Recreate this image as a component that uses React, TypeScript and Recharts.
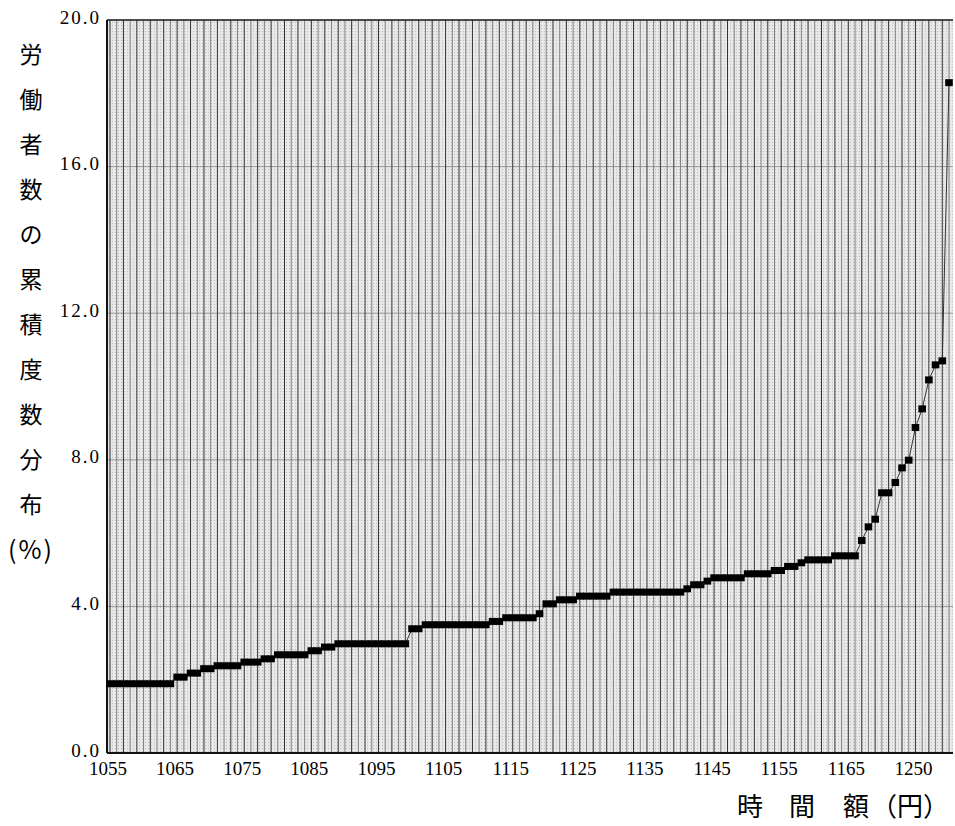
import React from "react";
import {
  LineChart,
  Line,
  XAxis,
  YAxis,
  CartesianGrid,
  ReferenceLine,
  Label,
} from "recharts";

// 時間額 (円) categories, one per plotted point
const wageLabels: number[] = [
  1055, 1056, 1057, 1058, 1059, 1060, 1061, 1062, 1063, 1064,
  1065, 1066, 1067, 1068, 1069, 1070, 1071, 1072, 1073, 1074,
  1075, 1076, 1077, 1078, 1079, 1080, 1081, 1082, 1083, 1084,
  1085, 1086, 1087, 1088, 1089, 1090, 1091, 1092, 1093, 1094,
  1095, 1096, 1097, 1098, 1099, 1100, 1101, 1102, 1103, 1104,
  1105, 1106, 1107, 1108, 1109, 1110, 1111, 1112, 1113, 1114,
  1115, 1116, 1117, 1118, 1119, 1120, 1121, 1122, 1123, 1124,
  1125, 1126, 1127, 1128, 1129, 1130, 1131, 1132, 1133, 1134,
  1135, 1136, 1137, 1138, 1139, 1140, 1141, 1142, 1143, 1144,
  1145, 1146, 1147, 1148, 1149, 1150, 1151, 1152, 1153, 1154,
  1155, 1156, 1157, 1158, 1159, 1160, 1161, 1162, 1163, 1164,
  1165, 1166, 1167, 1168, 1169, 1170, 1175, 1180, 1200, 1220,
  1250, 1260, 1280, 1300, 1350, 1400,
];

// 労働者数の累積度数分布 (%)
const cumulativePct: number[] = [
  1.89, 1.89, 1.89, 1.89, 1.89, 1.89, 1.89, 1.89, 1.89, 1.89,
  2.07, 2.07, 2.18, 2.18, 2.30, 2.30, 2.38, 2.38, 2.38, 2.38,
  2.48, 2.48, 2.48, 2.57, 2.57, 2.68, 2.68, 2.68, 2.68, 2.68,
  2.79, 2.79, 2.89, 2.89, 2.98, 2.98, 2.98, 2.98, 2.98, 2.98,
  2.98, 2.98, 2.98, 2.98, 2.98, 3.39, 3.39, 3.50, 3.50, 3.50,
  3.50, 3.50, 3.50, 3.50, 3.50, 3.50, 3.50, 3.59, 3.59, 3.69,
  3.69, 3.69, 3.69, 3.69, 3.80, 4.07, 4.07, 4.18, 4.18, 4.18,
  4.28, 4.28, 4.28, 4.28, 4.28, 4.39, 4.39, 4.39, 4.39, 4.39,
  4.39, 4.39, 4.39, 4.39, 4.39, 4.39, 4.48, 4.59, 4.59, 4.69,
  4.78, 4.78, 4.78, 4.78, 4.78, 4.89, 4.89, 4.89, 4.89, 4.98,
  4.98, 5.09, 5.09, 5.19, 5.27, 5.27, 5.27, 5.27, 5.38, 5.38,
  5.38, 5.38, 5.80, 6.17, 6.38, 7.10, 7.10, 7.38, 7.78, 7.99,
  8.88, 9.39, 10.18, 10.59, 10.70, 18.29,
];

const yTicks: number[] = [0, 4, 8, 12, 16, 20];

const yTitleChars: string[] = ["労", "働", "者", "数", "の", "累", "積", "度", "数", "分", "布", "(%)"];
const xTitleParts: string[] = ["時", "間", "額", "（円）"];

const data = wageLabels.map((w, i) => ({ wage: String(w), pct: cumulativePct[i] }));

const SERIF = "'Liberation Serif', 'DejaVu Serif', serif";
const CJK = "'Noto Sans CJK JP', sans-serif";

const SquareDot = (props: any) => {
  const { cx, cy, index } = props;
  if (cx == null || cy == null) return null;
  return <rect key={`d${index}`} x={cx - 3.8} y={cy - 3.5} width={7.6} height={7} fill="#000" />;
};

const YTick = (props: any) => {
  const { y, payload } = props;
  return (
    <text x={101} y={y - 3} dominantBaseline="central" textAnchor="end" fontFamily={SERIF} fontSize={19} letterSpacing={2} fill="#000">
      {Number(payload.value).toFixed(1)}
    </text>
  );
};

const XTick = (props: any) => {
  const { x, payload } = props;
  return (
    <text x={x - 2} y={768} dominantBaseline="central" textAnchor="middle" fontFamily={SERIF} fontSize={19} fill="#000">
      {payload.value}
    </text>
  );
};

const YTitle = () => (
  <g>
    {yTitleChars.map((c, k) => (
      <text
        key={k}
        x={31}
        y={53 + 45 * k}
        dominantBaseline="central"
        textAnchor="middle"
        fontFamily={CJK}
        fontSize={k === yTitleChars.length - 1 ? 25 : 23}
        letterSpacing={k === yTitleChars.length - 1 ? 2 : 0}
        fill="#000"
      >
        {c}
      </text>
    ))}
  </g>
);

const xTitleX = [750, 802, 856, 910];
const XTitle = () => (
  <g>
    {xTitleParts.map((c, k) => (
      <text key={k} x={xTitleX[k]} y={804} dominantBaseline="central" textAnchor="middle" fontFamily={CJK} fontSize={26} fill="#000">
        {c}
      </text>
    ))}
  </g>
);

export default function App() {
  return (
    <div style={{ position: "absolute", left: 0, top: 0, width: 955, height: 826, overflow: "hidden" }}>
      <LineChart width={955} height={826} data={data} margin={{ top: 20, right: 2, left: 0, bottom: 0 }}>
        <defs>
          <pattern id="dotbg" width="3" height="3" patternUnits="userSpaceOnUse">
            <rect width="3" height="3" fill="#e8e8e8" />
            <rect x="1" y="1" width="1" height="1" fill="#bdbdbd" />
          </pattern>
        </defs>
        <CartesianGrid vertical={false} stroke="#9a9a9a" strokeWidth={1} fill="url(#dotbg)" />
        {wageLabels.map((w, i) => (
          <ReferenceLine
            key={`v${i}`}
            x={String(w)}
            stroke={i % 2 === 0 ? "#333333" : "#808080"}
            strokeWidth={1}
          />
        ))}
        <ReferenceLine y={20} stroke="#222" strokeWidth={1.5} />
        <XAxis
          dataKey="wage"
          type="category"
          interval={9}
          height={73}
          padding={{ left: 3, right: 4 }}
          tickLine={false}
          axisLine={{ stroke: "#111", strokeWidth: 2 }}
          tick={<XTick />}
        >
          <Label content={<XTitle />} />
        </XAxis>
        <YAxis
          type="number"
          domain={[0, 20]}
          ticks={yTicks}
          width={107}
          tickLine={false}
          axisLine={{ stroke: "#111", strokeWidth: 2 }}
          tick={<YTick />}
        >
          <Label content={<YTitle />} />
        </YAxis>
        <Line
          type="linear"
          dataKey="pct"
          stroke="#333"
          strokeWidth={1}
          dot={<SquareDot />}
          activeDot={false}
          isAnimationActive={false}
        />
      </LineChart>
    </div>
  );
}
